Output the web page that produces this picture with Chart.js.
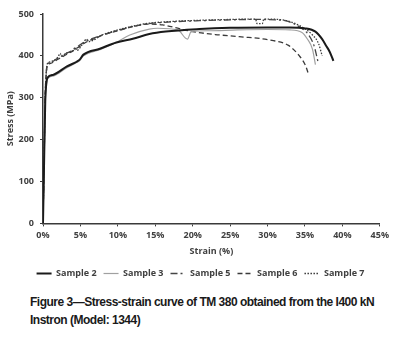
<!DOCTYPE html>
<html>
<head>
<meta charset="utf-8">
<script src="https://cdn.jsdelivr.net/npm/chart.js@4"></script>
<style>
  html, body { margin: 0; padding: 0; background: #fff; }
  #wrap { position: relative; width: 393px; height: 341px; }
  #box { position: absolute; left: 0; top: 0; width: 393px; height: 288px; }
  #caption {
    position: absolute; left: 30px; top: 293px; width: 362px;
    font-family: "Liberation Sans", Arial, sans-serif; font-size: 12px; font-weight: bold;
    color: #1a1a1a; line-height: 18px; letter-spacing: -0.5px;
  }
</style>
</head>
<body>
<div id="wrap">
  <div id="box"><canvas id="chart"></canvas></div>
  <div id="caption">Figure 3—Stress-strain curve of TM 380 obtained from the I400 kN<br>Instron (Model: 1344)</div>
</div>
<script>
// strain (%) / stress (MPa)
const sample2Strain = [0, 0.15, 0.3, 0.45, 0.6, 1.4, 3.2, 4.5, 4.9, 5.4, 7.6, 9.8, 12, 14.2, 16.4, 20.9, 25, 30, 33, 34.9, 36.4, 37.3, 37.8, 38.3, 38.8];
const sample2Stress = [0, 150, 290, 335, 348, 355, 375, 386, 391, 403, 417, 432, 441, 452, 458, 464, 467, 468, 468, 466, 458, 440, 425, 410, 388];

const sample3Strain = [0, 0.15, 0.3, 0.45, 0.6, 1.4, 3.2, 4.5, 4.9, 5.4, 7.6, 9.8, 11.6, 14.2, 15.3, 18.0, 19.3, 19.8, 22, 26, 30, 33, 34.6, 35.3, 36, 36.4];
const sample3Stress = [0, 140, 285, 330, 345, 352, 372, 384, 389, 400, 415, 432, 450, 464, 466, 462, 440, 458, 460, 462, 463, 462, 456, 441, 416, 379];

const sample5Strain = [0, 0.15, 0.3, 0.45, 0.6, 1, 2, 3, 4, 5, 6, 8, 10, 12, 14.2, 17, 20.9, 25, 28, 32, 34.2, 35.5, 36.2, 36.8];
const sample5Stress = [0, 160, 310, 365, 380, 384, 395, 405, 414, 427, 437, 450, 461, 470, 477, 481, 484, 486, 487, 485, 470, 450, 425, 382];

const sample6Strain = [0, 0.15, 0.3, 0.45, 0.6, 1, 2, 3, 4, 5, 6, 7, 8, 10, 12, 14, 16, 18, 20, 23, 26.2, 30.6, 32.8, 34.2, 35.1, 35.4];
const sample6Stress = [0, 150, 300, 360, 378, 382, 392, 402, 412, 424, 435, 442, 450, 460, 470, 476, 474, 466, 458, 451, 446, 437, 425, 401, 376, 360];

const sample7Strain = [0, 0.15, 0.3, 0.45, 0.6, 1, 2, 2.3, 2.5, 3, 4, 4.3, 4.5, 5.4, 5.8, 6.1, 8, 10, 12, 14.2, 17, 20.9, 25, 28.4, 28.6, 29.3, 29.5, 32, 34.5, 36, 36.8, 37.3];
const sample7Stress = [0, 155, 305, 362, 382, 386, 397, 406, 399, 406, 412, 420, 413, 431, 440, 434, 451, 462, 471, 478, 482, 485, 487, 488, 477, 477, 488, 486, 470, 450, 430, 400];

const xTicks = [0, 5, 10, 15, 20, 25, 30, 35, 40, 45];
const yTicks = [0, 100, 200, 300, 400, 500];

function points(xs, ys) {
    return xs.map((x, i) => ({ x: x, y: ys[i] }));
}

const axisColor = '#3a3a3a';
const textColor = '#404040';
const font = { family: '"Open Sans", sans-serif', size: 9, weight: 'bold' };

function lineSet(label, xs, ys, color, width, dash) {
    return {
        label: label,
        data: points(xs, ys),
        borderColor: color,
        backgroundColor: color,
        borderWidth: width,
        borderDash: dash,
        pointRadius: 0,
        pointStyle: 'line',
        cubicInterpolationMode: 'monotone',
        fill: false
    };
}

// nudge the legend right so it sits where the original's does
const legendShift = {
    id: 'legendShift',
    afterLayout(chart) {
        chart.legend.left += 10;
        chart.legend.right += 10;
    }
};

new Chart(document.getElementById('chart'), {
    type: 'line',
    data: {
        datasets: [
            lineSet('Sample 2', sample2Strain, sample2Stress, '#1a1a1a', 2, []),
            lineSet('Sample 3', sample3Strain, sample3Stress, '#a0a0a0', 1.2, []),
            lineSet('Sample 5', sample5Strain, sample5Stress, '#454545', 1.3, [7, 3, 2, 3]),
            lineSet('Sample 6', sample6Strain, sample6Stress, '#3a3a3a', 1.3, [5, 3]),
            lineSet('Sample 7', sample7Strain, sample7Stress, '#3a3a3a', 1.3, [1.5, 1.5])
        ]
    },
    options: {
        responsive: true,
        maintainAspectRatio: false,
        animation: false,
        layout: { padding: { top: 14, right: 12, left: 0, bottom: 0 } },
        scales: {
            x: {
                type: 'linear',
                min: 0,
                max: 45,
                afterBuildTicks: axis => { axis.ticks = xTicks.map(v => ({ value: v })); },
                ticks: { font: font, color: textColor, padding: 4, maxRotation: 0, callback: v => v + '%' },
                grid: { display: true, drawOnChartArea: false, drawTicks: true, tickLength: 3, color: axisColor },
                border: { color: axisColor, width: 1.5 },
                title: { display: true, text: 'Strain (%)', font: font, color: textColor, padding: { top: 1, bottom: 5 } }
            },
            y: {
                min: 0,
                max: 500,
                afterBuildTicks: axis => { axis.ticks = yTicks.map(v => ({ value: v })); },
                afterFit: axis => { axis.width = 43; },
                ticks: { font: font, color: textColor, padding: 6 },
                grid: { display: true, drawOnChartArea: false, drawTicks: true, tickLength: 3, color: axisColor },
                border: { color: axisColor, width: 1.5 },
                title: { display: true, text: 'Stress (MPa)', font: font, color: textColor, padding: { top: 5, bottom: 4 } }
            }
        },
        plugins: {
            legend: {
                position: 'bottom',
                labels: {
                    usePointStyle: true,
                    pointStyleWidth: 15,
                    font: font,
                    color: textColor,
                    padding: 7,
                    // legend lines take the dataset's dash, not the point's
                    generateLabels: chart => {
                        const items = Chart.defaults.plugins.legend.labels.generateLabels(chart);
                        items.forEach(item => {
                            const ds = chart.data.datasets[item.datasetIndex];
                            item.lineDash = ds.borderDash;
                            item.lineWidth = ds.borderWidth;
                            item.strokeStyle = ds.borderColor;
                        });
                        return items;
                    }
                }
            },
            tooltip: { enabled: false }
        }
    },
    plugins: [legendShift]
});
</script>
</body>
</html>
